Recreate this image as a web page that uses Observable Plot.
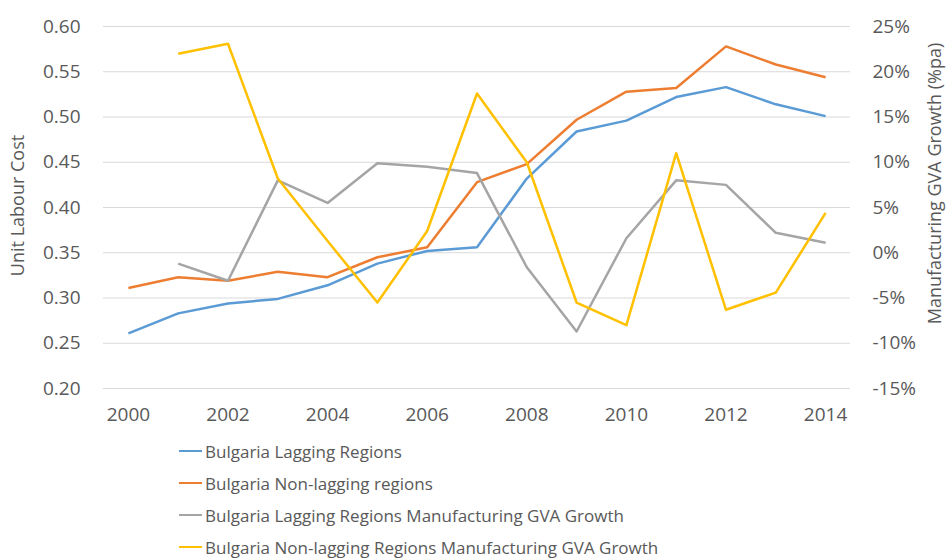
<!DOCTYPE html>
<html>
<head>
<meta charset="utf-8">
<script src="https://cdn.jsdelivr.net/npm/d3@7"></script>
<script src="https://cdn.jsdelivr.net/npm/@observablehq/plot@0.6"></script>
<style>
  body { margin: 0; background: #fff; font-family: "Open Sans", sans-serif; }
  #wrap { position: relative; width: 952px; height: 558px; overflow: hidden; }
  #legend { position: absolute; left: 179px; top: 435px; color: #595959; font-size: 17px; }
  #legend .row { display: flex; align-items: center; height: 32px; white-space: nowrap; }
  #legend .sw { width: 23px; height: 2.5px; margin-right: 3px; }
</style>
</head>
<body>
<div id="wrap"></div>
<script>
// ---- data ----
const years = [2000, 2001, 2002, 2003, 2004, 2005, 2006, 2007, 2008, 2009, 2010, 2011, 2012, 2013, 2014];
const laggingULC    = [0.261, 0.283, 0.294, 0.299, 0.314, 0.338, 0.352, 0.356, 0.432, 0.484, 0.496, 0.522, 0.533, 0.514, 0.501];
const nonLaggingULC = [0.311, 0.323, 0.319, 0.329, 0.323, 0.345, 0.356, 0.428, 0.448, 0.497, 0.528, 0.532, 0.578, 0.558, 0.544];
// Manufacturing GVA growth, % per annum (right axis)
const laggingGVA    = [null, -1.2, -3.1, 8.0, 5.5, 9.9, 9.5, 8.8, -1.6, -8.7, 1.6, 8.0, 7.5, 2.2, 1.1];
const nonLaggingGVA = [null, 22.0, 23.1, 8.2, 1.3, -5.5, 2.4, 17.6, 10.0, -5.5, -8.0, 11.0, -6.3, -4.4, 4.4];
const seriesNames = [
  "Bulgaria Lagging Regions",
  "Bulgaria Non-lagging regions",
  "Bulgaria Lagging Regions Manufacturing GVA Growth",
  "Bulgaria Non-lagging Regions Manufacturing GVA Growth"
];
const seriesColors = ["#5b9bd5", "#ed7d31", "#a5a5a5", "#ffc000"];
const leftTicks = [0.20, 0.25, 0.30, 0.35, 0.40, 0.45, 0.50, 0.55, 0.60];
const xTicks = [2000, 2002, 2004, 2006, 2008, 2010, 2012, 2014];
const leftTitle = "Unit Labour Cost";
const rightTitle = "Manufacturing GVA Growth (%pa)";

// right axis: -15%..25% shares the frame with 0.20..0.60  (0% <-> 0.35)
const pctToLeft = g => 0.35 + g / 100;
const leftToPct = v => Math.round((v - 0.35) * 100);

const rows = [];
years.forEach((yr, i) => {
  rows.push({year: yr, series: seriesNames[0], v: laggingULC[i]});
  rows.push({year: yr, series: seriesNames[1], v: nonLaggingULC[i]});
  if (laggingGVA[i] != null) rows.push({year: yr, series: seriesNames[2], v: pctToLeft(laggingGVA[i])});
  if (nonLaggingGVA[i] != null) rows.push({year: yr, series: seriesNames[3], v: pctToLeft(nonLaggingGVA[i])});
});

const tickFont = {fontSize: 19, letterSpacing: 1};

const chart = Plot.plot({
  width: 952,
  height: 436,
  marginLeft: 103,
  marginRight: 102,
  marginTop: 26,
  marginBottom: 48,
  style: {fontFamily: "'Open Sans', sans-serif", color: "#595959", background: "#fff", overflow: "visible"},
  x: {domain: [years[0] - 0.5, years[years.length - 1] + 0.5]},
  y: {domain: [0.2, 0.6]},
  color: {domain: seriesNames, range: seriesColors},
  marks: [
    Plot.gridY(leftTicks, {stroke: "#d9d9d9", strokeOpacity: 1, strokeWidth: 1}),
    Plot.axisX(xTicks, {tickSize: 0, tickPadding: 19, tickFormat: d => String(d), label: null, ...tickFont}),
    Plot.axisY(leftTicks, {anchor: "left", tickSize: 0, tickPadding: 23, tickFormat: d3.format(".2f"), label: null, ...tickFont}),
    Plot.axisY(leftTicks, {anchor: "right", tickSize: 0, tickPadding: 22, tickFormat: v => leftToPct(v) + "%", label: null, ...tickFont}),
    Plot.lineY(rows, {x: "year", y: "v", z: "series", stroke: "series", strokeWidth: 2.5, strokeLinejoin: "round", strokeLinecap: "butt"}),
    Plot.text([leftTitle], {frameAnchor: "left", dx: -85, dy: -2, rotate: -90, textAnchor: "middle", lineAnchor: "middle", fontSize: 18, fill: "#595959"}),
    Plot.text([rightTitle], {frameAnchor: "right", dx: 85, dy: -24, rotate: -90, textAnchor: "middle", lineAnchor: "middle", fontSize: 18, fill: "#595959"})
  ]
});

const wrap = document.getElementById("wrap");
wrap.appendChild(chart);

const legend = document.createElement("div");
legend.id = "legend";
seriesNames.forEach((name, i) => {
  const row = document.createElement("div");
  row.className = "row";
  const sw = document.createElement("span");
  sw.className = "sw";
  sw.style.background = seriesColors[i];
  const label = document.createElement("span");
  label.textContent = name;
  row.appendChild(sw);
  row.appendChild(label);
  legend.appendChild(row);
});
wrap.appendChild(legend);
</script>
</body>
</html>
